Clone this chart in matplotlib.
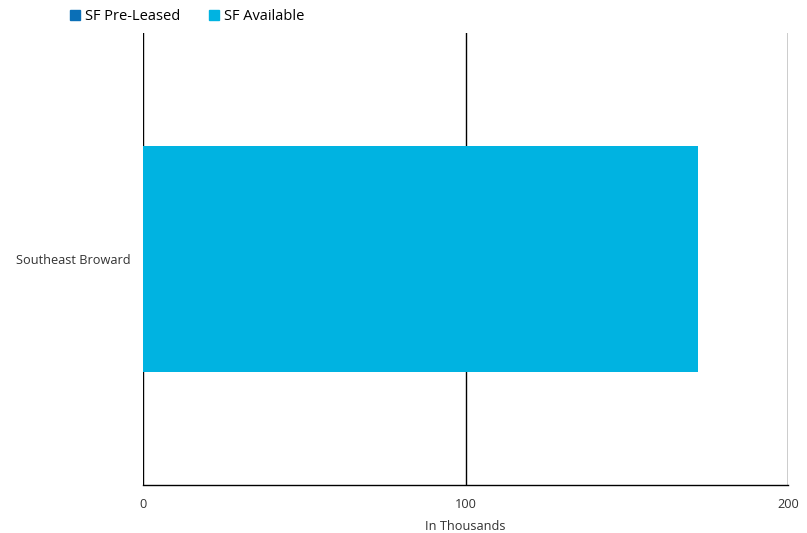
import matplotlib.pyplot as plt
from matplotlib.patches import Patch

plt.rcParams['font.family'] = ['Open Sans', 'DejaVu Sans']

# Square footage by submarket, in thousands
submarkets = ['Southeast Broward']
sf_pre_leased = [0]
sf_available = [172]
x_ticks = [0, 100, 200]

color_pre = '#0a6fb7'
color_avail = '#00b3e1'

fig = plt.figure(figsize=(8.07, 5.33), dpi=100)
ax = fig.add_axes([0.1772, 0.09, 0.7993, 0.848])

ypos = list(range(len(submarkets)))
ax.barh(ypos, sf_pre_leased, height=0.5, color=color_pre)
ax.barh(ypos, sf_available, left=sf_pre_leased, height=0.5, color=color_avail)

ax.set_xlim(0, 200)
ax.set_ylim(-0.5, 0.5)
ax.set_xticks(x_ticks)
ax.set_xticklabels([str(t) for t in x_ticks], fontsize=9.2, color='#333333')
ax.set_yticks(ypos)
ax.set_yticklabels(submarkets, fontsize=9.2, color='#333333')
ax.tick_params(axis='x', length=0, pad=9)
ax.tick_params(axis='y', length=0, pad=9)

for t in x_ticks:
    ax.axvline(t, color='black', linewidth=1, zorder=0)
for side in ['top', 'right', 'left']:
    ax.spines[side].set_visible(False)
ax.spines['bottom'].set_color('black')
ax.spines['bottom'].set_linewidth(1)

ax.set_xlabel('In Thousands', fontsize=9.2, color='#333333', labelpad=7)

handles = [Patch(color=color_pre, label='SF Pre-Leased'),
           Patch(color=color_avail, label='SF Available')]
fig.legend(handles=handles, loc='upper left', bbox_to_anchor=(0.076, 1.0),
           ncol=2, frameon=False, fontsize=10.5, handlelength=0.7,
           handleheight=0.7, handletextpad=0.3, columnspacing=2.0,
           borderaxespad=0.2)

fig.savefig('out.png', dpi=100)
